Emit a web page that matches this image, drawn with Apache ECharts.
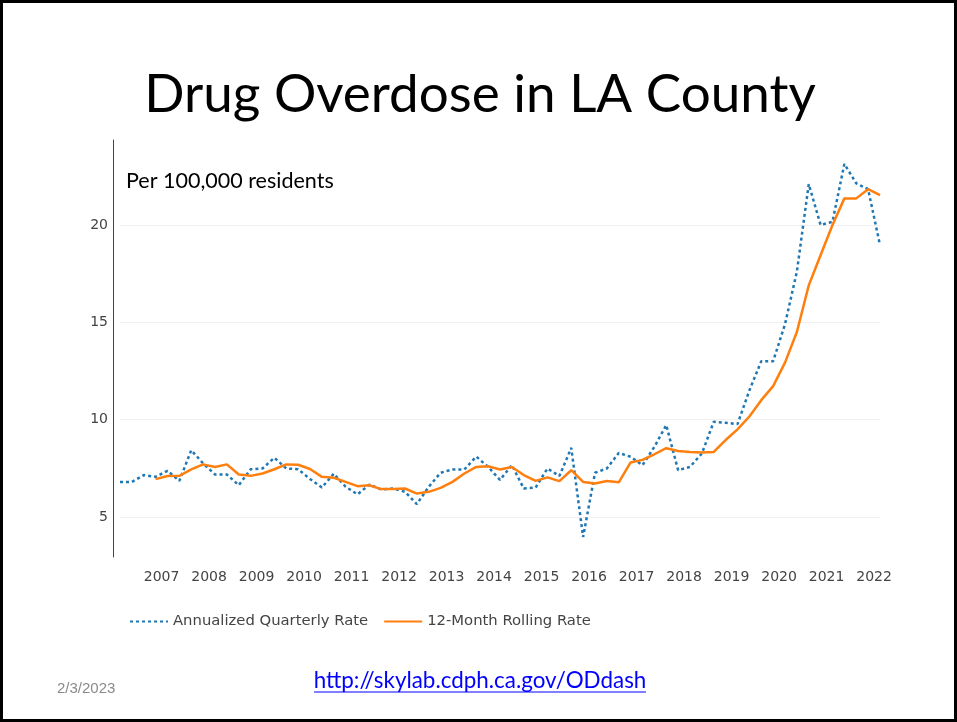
<!DOCTYPE html>
<html><head><meta charset="utf-8">
<script src="https://cdn.jsdelivr.net/npm/echarts@6/dist/echarts.min.js"></script>
<style>html,body{margin:0;padding:0;background:#fff}#c{width:957px;height:722px}</style>
</head><body><div id="c"></div>
<script>
const quarters = [
 '2006-Q1','2006-Q2','2006-Q3','2006-Q4','2007-Q1','2007-Q2','2007-Q3','2007-Q4',
 '2008-Q1','2008-Q2','2008-Q3','2008-Q4','2009-Q1','2009-Q2','2009-Q3','2009-Q4',
 '2010-Q1','2010-Q2','2010-Q3','2010-Q4','2011-Q1','2011-Q2','2011-Q3','2011-Q4',
 '2012-Q1','2012-Q2','2012-Q3','2012-Q4','2013-Q1','2013-Q2','2013-Q3','2013-Q4',
 '2014-Q1','2014-Q2','2014-Q3','2014-Q4','2015-Q1','2015-Q2','2015-Q3','2015-Q4',
 '2016-Q1','2016-Q2','2016-Q3','2016-Q4','2017-Q1','2017-Q2','2017-Q3','2017-Q4',
 '2018-Q1','2018-Q2','2018-Q3','2018-Q4','2019-Q1','2019-Q2','2019-Q3','2019-Q4',
 '2020-Q1','2020-Q2','2020-Q3','2020-Q4','2021-Q1','2021-Q2','2021-Q3','2021-Q4',
 '2022-Q1'
];
const annualizedQuarterlyRate = [
 6.8,6.8,7.15,7.06,7.37,6.85,8.43,7.75,7.18,7.18,
 6.63,7.45,7.49,8.04,7.49,7.45,6.95,6.51,7.22,6.55,
 6.16,6.66,6.41,6.46,6.29,5.66,6.55,7.27,7.44,7.44,
 8.1,7.57,6.9,7.66,6.46,6.51,7.49,7.1,8.55,3.97,
 7.27,7.49,8.29,8.09,7.66,8.6,9.72,7.4,7.57,8.26,
 9.89,9.84,9.77,11.5,13.0,13.0,14.9,17.6,22.1,20.0,
 20.17,23.14,22.14,21.84,18.97
];
const rolling12MonthRate = [
 null,null,null,6.94,7.1,7.11,7.44,7.7,7.57,7.7,
 7.18,7.11,7.23,7.45,7.7,7.68,7.46,7.06,7.01,6.8,
 6.58,6.63,6.43,6.43,6.46,6.2,6.29,6.49,6.8,7.23,
 7.57,7.6,7.44,7.57,7.15,6.85,7.03,6.84,7.4,6.8,
 6.72,6.85,6.78,7.8,7.93,8.22,8.53,8.39,8.34,8.31,
 8.34,8.95,9.5,10.16,11.0,11.72,12.93,14.5,16.9,18.46,
 20.0,21.37,21.37,21.84,21.54
];
const yearTicks = [2007,2008,2009,2010,2011,2012,2013,2014,2015,2016,2017,2018,2019,2020,2021,2022];
const yTicks = [5,10,15,20];

// quarter label -> decimal year at mid-quarter
const qx = quarters.map(s => { const [y,q] = s.split('-Q'); return +y + (+q - 0.5)/4; });
const blueData = qx.map((x,i) => [x, annualizedQuarterlyRate[i]]);
const orangeData = qx.map((x,i) => [x, rolling12MonthRate[i]]).filter(d => d[1] !== null);

const chart = echarts.init(document.getElementById('c'), null, {renderer:'canvas'});
const tickFont = 'DejaVu Sans';
chart.setOption({
  animation: false,
  backgroundColor: '#fff',
  grid: {left: 120, right: 77, top: 140, bottom: 165, containLabel: false},
  xAxis: {
    type: 'value', min: qx[0], max: qx[qx.length-1],
    axisLine: {show: false}, axisTick: {show: false}, splitLine: {show: false},
    axisLabel: {customValues: yearTicks, formatter: v => String(v), color: '#444', fontFamily: tickFont, fontSize: 14, margin: 13}
  },
  yAxis: {
    type: 'value', min: 2.94, max: 24.37, offset: 7,
    axisLine: {show: true, lineStyle: {color: '#444', width: 1}},
    axisTick: {show: false},
    splitLine: {show: false},
    axisLabel: {customValues: yTicks, color: '#444', fontFamily: tickFont, fontSize: 14, margin: 5}
  },
  legend: {
    left: 124, top: 609, itemWidth: 38, itemHeight: 14, itemGap: 15,
    itemStyle: {opacity: 0},
    textStyle: {color: '#444', fontFamily: tickFont, fontSize: 14.8},
    data: ['Annualized Quarterly Rate', '12-Month Rolling Rate']
  },
  series: [
    {
      name: 'Annualized Quarterly Rate', type: 'line', data: blueData,
      symbol: 'none', showSymbol: false,
      lineStyle: {color: '#1f77b4', width: 2.5, type: [3, 3], cap: 'butt'},
      itemStyle: {color: '#1f77b4'},
      markLine: {
        silent: true, symbol: 'none', label: {show: false},
        lineStyle: {color: '#f0f0f0', type: 'solid', width: 1},
        data: yTicks.map(v => ({yAxis: v})), z: 0
      },
      z: 2
    },
    {
      name: '12-Month Rolling Rate', type: 'line', data: orangeData,
      symbol: 'none', showSymbol: false,
      lineStyle: {color: '#ff7f0e', width: 2.5},
      itemStyle: {color: '#ff7f0e'},
      z: 3
    }
  ],
  graphic: [
    {type: 'rect', shape: {x: 1.5, y: 1.5, width: 954, height: 719}, style: {fill: null, stroke: '#000', lineWidth: 3}, silent: true},
    {type: 'text', x: 480, y: 95, style: {text: 'Drug Overdose in LA County', font: '53px Lato', fill: '#000', textAlign: 'center', textVerticalAlign: 'middle'}},
    {type: 'text', x: 126, y: 181, style: {text: 'Per 100,000 residents', font: '21.5px Lato', fill: '#000', textAlign: 'left', textVerticalAlign: 'middle'}},
    {type: 'text', x: 57, y: 689, style: {text: '2/3/2023', font: '15px "Liberation Sans"', fill: '#8a8a8a', textAlign: 'left', textVerticalAlign: 'middle'}},
    {type: 'text', x: 480, y: 681, style: {text: 'http://skylab.cdph.ca.gov/ODdash', font: '22.4px Lato', fill: '#0000ff', textAlign: 'center', textVerticalAlign: 'middle'}},
    {type: 'line', shape: {x1: 314, y1: 692, x2: 646, y2: 692}, style: {stroke: '#0000ff', lineWidth: 1.2}}
  ]
});
</script></body></html>
